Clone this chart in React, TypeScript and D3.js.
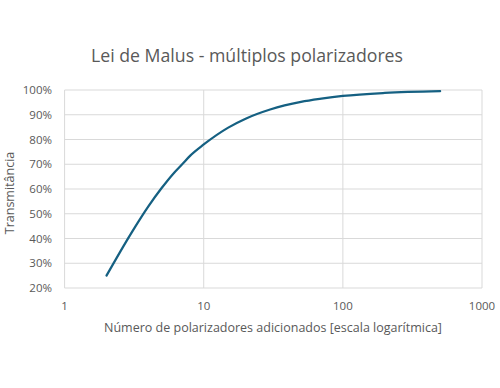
import React from "react";
import * as d3 from "d3";

const title = "Lei de Malus - múltiplos polarizadores";
const xLabel = "Número de polarizadores adicionados [escala logarítmica]";
const yLabel = "Transmitância";
const polarizers = [2, 3, 4, 5, 6, 7, 8, 10, 15, 20, 30, 50, 70, 100, 200, 500];
const transmittance = [0.25, 0.42, 0.53, 0.605, 0.66, 0.70, 0.735, 0.78, 0.848, 0.884, 0.921, 0.952, 0.965, 0.976, 0.988, 0.995];
const xTicks = [1, 10, 100, 1000];
const yTicks = [0.2, 0.3, 0.4, 0.5, 0.6, 0.7, 0.8, 0.9, 1.0];

const W = 500, H = 388;
const margin = { left: 64.6, right: 18, top: 90, bottom: 100 };

export default function App() {
  const x = d3.scaleLog().domain([1, 1000]).range([margin.left, W - margin.right]);
  const y = d3.scaleLinear().domain([0.2, 1.0]).range([H - margin.bottom, margin.top]);
  const line = d3
    .line<number>()
    .x((_, i) => x(polarizers[i]))
    .y((d) => y(d))
    .curve(d3.curveMonotoneX);
  const font = "'Open Sans', 'Noto Sans', sans-serif";
  const grey = "#595959";
  return (
    <svg width={W} height={H} style={{ position: "absolute", left: 0, top: 0 }} fontFamily={font}>
      <rect width={W} height={H} fill="#fff" />
      {yTicks.map((t) => (
        <line key={"gy" + t} x1={margin.left} x2={W - margin.right} y1={y(t)} y2={y(t)} stroke="#d9d9d9" strokeWidth={1} />
      ))}
      {xTicks.map((t) => (
        <line key={"gx" + t} x1={x(t)} x2={x(t)} y1={margin.top} y2={H - margin.bottom} stroke="#d9d9d9" strokeWidth={1} />
      ))}
      {yTicks.map((t) => (
        <text key={"ty" + t} x={52} y={y(t)} dy="0.35em" textAnchor="end" fontSize={11.5} fill={grey}>
          {d3.format(".0%")(t)}
        </text>
      ))}
      {xTicks.map((t) => (
        <text key={"tx" + t} x={x(t)} y={306} dy="0.35em" textAnchor="middle" fontSize={11.5} fill={grey}>
          {t}
        </text>
      ))}
      <path d={line(transmittance) ?? ""} fill="none" stroke="#156082" strokeWidth={2.25} strokeLinecap="round" />
      <text x={247} y={62} textAnchor="middle" fontSize={17.7} fill={grey}>
        {title}
      </text>
      <text x={273} y={332} textAnchor="middle" fontSize={12.5} fill={grey}>
        {xLabel}
      </text>
      <text transform={`translate(14, 193) rotate(-90)`} textAnchor="middle" fontSize={12.5} fill={grey}>
        {yLabel}
      </text>
    </svg>
  );
}
